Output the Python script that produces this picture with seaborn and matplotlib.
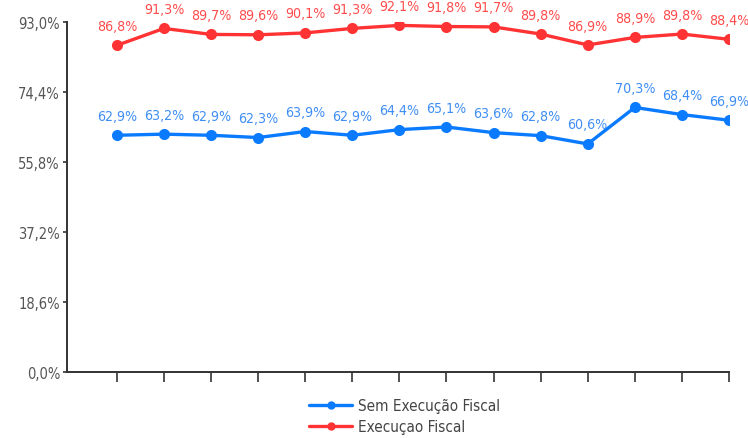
import matplotlib
matplotlib.use("Agg")
import matplotlib.pyplot as plt
from matplotlib.ticker import FixedLocator, FuncFormatter
import numpy as np
import pandas as pd
import seaborn as sns

# Series values (percent)
periodos = list(range(14))
sem_execucao = [62.9, 63.2, 62.9, 62.3, 63.9, 62.9, 64.4, 65.1, 63.6, 62.8, 60.6, 70.3, 68.4, 66.9]
execucao = [86.8, 91.3, 89.7, 89.6, 90.1, 91.3, 92.1, 91.8, 91.7, 89.8, 86.9, 88.9, 89.8, 88.4]
series_names = ["Sem Execução Fiscal", "Execuçao Fiscal"]
y_ticks = [0.0, 18.6, 37.2, 55.8, 74.4, 93.0]

blue = "#0a7bff"
red = "#ff3333"
label_blue = "#3f8ef5"
label_red = "#ff4c4c"

sns.set_theme(style="white")
plt.rcParams["font.family"] = ["DejaVu Sans"]
plt.rcParams["font.stretch"] = "condensed"

df = pd.DataFrame({
    "periodo": periodos * 2,
    "valor": sem_execucao + execucao,
    "serie": [series_names[0]] * len(periodos) + [series_names[1]] * len(periodos),
})

fig = plt.figure(figsize=(7.48, 4.39), dpi=100)
ax = fig.add_axes([67 / 748, 1 - 373 / 439, (729 - 67) / 748, (373 - 23) / 439])

sns.lineplot(data=df, x="periodo", y="valor", hue="serie",
             palette=[blue, red], marker="o", markersize=8,
             markeredgewidth=0, linewidth=2.4, ax=ax, legend=True)

# value labels above each point
for vals, col in [(sem_execucao, label_blue), (execucao, label_red)]:
    for x, v in zip(periodos, vals):
        ax.annotate(f"{v:.1f}%".replace(".", ","), (x, v), xytext=(0, 14),
                    textcoords="offset points", ha="center", va="center",
                    fontsize=10.2, color=col, fontstretch="condensed")

ax.set_xlim(-1.06, 13)
ax.set_ylim(0, 93)
ax.yaxis.set_major_locator(FixedLocator(y_ticks))
ax.yaxis.set_major_formatter(FuncFormatter(lambda v, p: f"{v:.1f}%".replace(".", ",")))
ax.set_xticks(periodos)
ax.set_xticklabels([""] * len(periodos))
ax.set_xlabel("")
ax.set_ylabel("")

for side in ["top", "right"]:
    ax.spines[side].set_visible(False)
for side in ["left", "bottom"]:
    ax.spines[side].set_color("#333333")
    ax.spines[side].set_linewidth(1.4)

ax.tick_params(axis="x", direction="out", length=7, width=1.2, color="#333333", bottom=True)
ax.tick_params(axis="y", direction="out", length=3, width=1.2, color="#333333", left=True,
               labelsize=10.5, labelcolor="#555555", pad=2)
for t in ax.get_yticklabels():
    t.set_fontstretch("condensed")

handles, labels = ax.get_legend_handles_labels()
leg = ax.legend(handles, labels, loc="upper center", bbox_to_anchor=(0.51, -0.035),
                frameon=False, fontsize=11, handlelength=2.8, labelspacing=0.4,
                handletextpad=0.4)
for t in leg.get_texts():
    t.set_color("#444444")
    t.set_fontstretch("condensed")
for h in leg.legend_handles:
    h.set_markersize(6)

fig.savefig("out.png", dpi=100)
